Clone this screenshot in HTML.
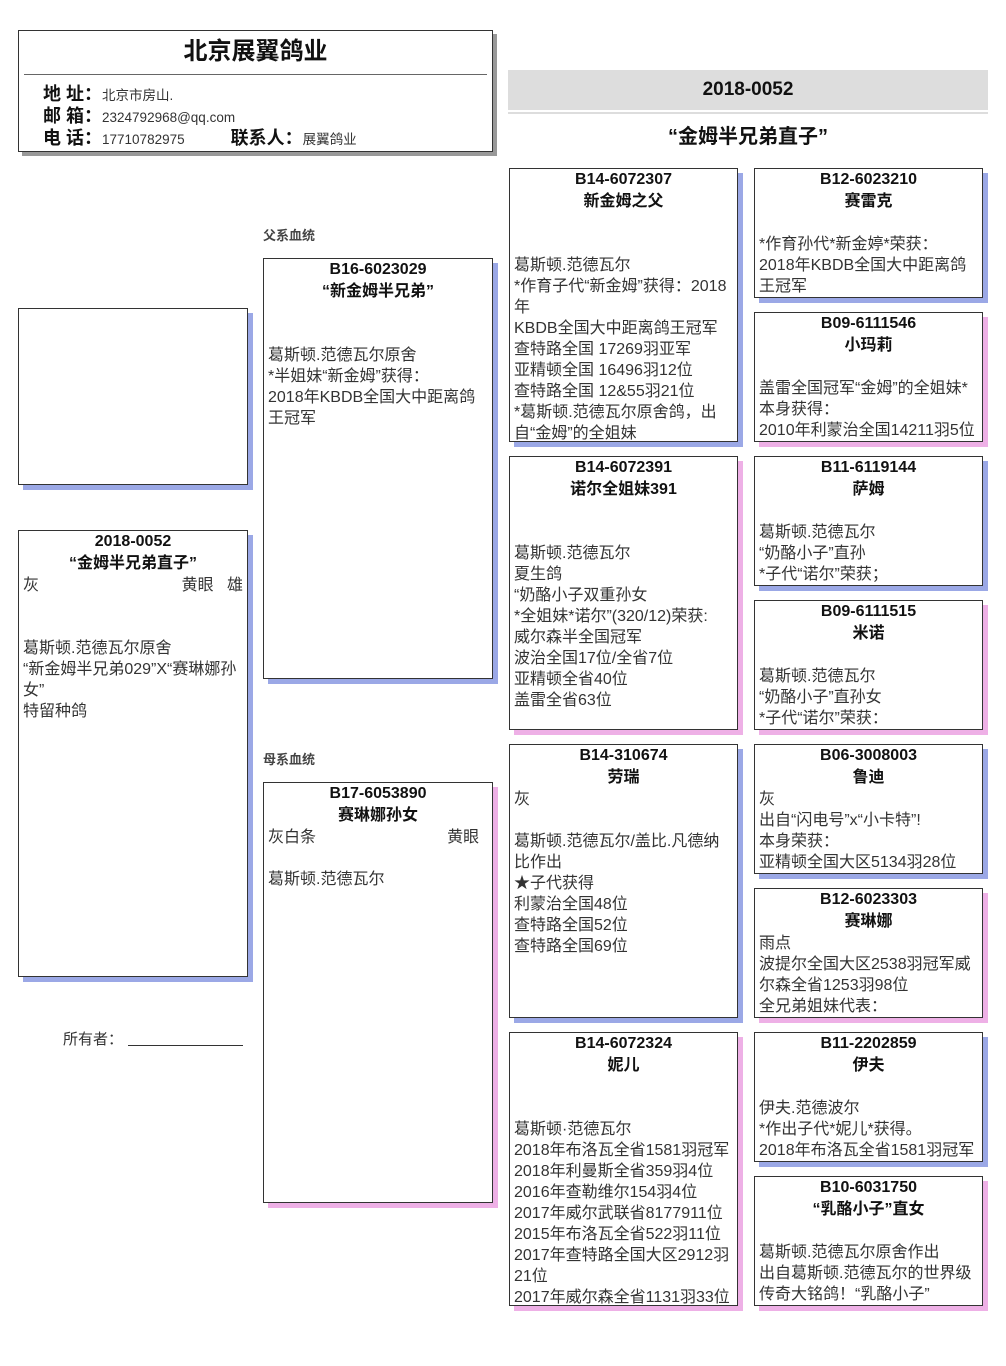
<!DOCTYPE html>
<html><head><meta charset="utf-8"><style>
body{margin:0;width:1006px;height:1366px;background:#fff;position:relative;font-family:"Liberation Sans","Noto Sans CJK SC",sans-serif;color:#333;overflow:hidden}
.b{position:absolute;border:1px solid #333;background:#fff;box-sizing:border-box;overflow:hidden;padding:0 4px;font-size:16px;line-height:21px}
.m{box-shadow:5px 5px 0 #9ba8e6}
.f{box-shadow:5px 5px 0 #eeb0e6}
.h{text-align:center;font-weight:bold;font-size:16px;line-height:22px;color:#111}
.row{display:flex;justify-content:space-between}
.lab{position:absolute;font-size:13px;font-weight:bold;color:#444}
</style></head><body>

<div style="position:absolute;left:18px;top:30px;width:475px;height:122px;border:1px solid #333;box-sizing:border-box;box-shadow:4px 4px 0 #999;background:#fff">
 <div style="text-align:center;font-size:24px;font-weight:bold;color:#111;margin-top:6px;line-height:30px">北京展翼鸽业</div>
 <div style="position:absolute;left:5px;right:5px;top:43px;border-top:1px solid #666"></div>
 <div style="position:absolute;left:24px;top:53px;font-size:13.5px;line-height:21px;color:#333">
  <div><b style="font-size:18px;color:#111">地 址：</b>北京市房山.</div>
  <div><b style="font-size:18px;color:#111">邮 箱：</b>2324792968@qq.com</div>
  <div><b style="font-size:18px;color:#111">电 话：</b>17710782975<span style="display:inline-block;width:46px"></span><b style="font-size:18px;color:#111">联系人：</b>展翼鸽业</div>
 </div>
</div>

<div style="position:absolute;left:508px;top:70px;width:480px;height:40px;background:#ddd;text-align:center;font-weight:bold;font-size:19px;line-height:40px;color:#111">2018-0052</div>
<div style="position:absolute;left:508px;top:112px;width:480px;height:2px;background:#ddd"></div>
<div style="position:absolute;left:508px;top:120px;width:480px;text-align:center;font-weight:bold;font-size:20px;color:#111">“金姆半兄弟直子”</div>

<div class="b m" style="left:18px;top:308px;width:230px;height:177px"></div>

<div class="b m" style="left:18px;top:530px;width:230px;height:447px">
<div class="h"><div>2018-0052</div><div>“金姆半兄弟直子”</div></div>
<div class="row"><span>灰</span><span>黄眼&nbsp;&nbsp;&nbsp;雄</span></div><br><br>
葛斯顿.范德瓦尔原舍<br>“新金姆半兄弟029”X“赛琳娜孙女”<br>特留种鸽
</div>

<div style="position:absolute;left:63px;top:1028px;font-size:15px">所有者：</div>
<div style="position:absolute;left:128px;top:1045px;width:115px;border-top:1px solid #333"></div>

<div class="lab" style="left:263px;top:225px">父系血统</div>
<div class="b m" style="left:263px;top:258px;width:230px;height:421px">
<div class="h"><div>B16-6023029</div><div>“新金姆半兄弟”</div></div><br><br>
葛斯顿.范德瓦尔原舍<br>*半姐妹“新金姆”获得：<br>2018年KBDB全国大中距离鸽王冠军
</div>

<div class="lab" style="left:263px;top:749px">母系血统</div>
<div class="b f" style="left:263px;top:782px;width:230px;height:421px">
<div class="h"><div>B17-6053890</div><div>赛琳娜孙女</div></div>
<div class="row"><span>灰白条</span><span>黄眼&nbsp;&nbsp;</span></div><br>
葛斯顿.范德瓦尔
</div>

<div class="b m" style="left:509px;top:168px;width:229px;height:274px">
<div class="h"><div>B14-6072307</div><div>新金姆之父</div></div><br><br>
葛斯顿.范德瓦尔<br>*作育子代“新金姆”获得：2018年<br>KBDB全国大中距离鸽王冠军<br>查特路全国 17269羽亚军<br>亚精顿全国 16496羽12位<br>查特路全国 12&amp;55羽21位<br>*葛斯顿.范德瓦尔原舍鸽，出自“金姆”的全姐妹
</div>
<div class="b f" style="left:509px;top:456px;width:229px;height:274px">
<div class="h"><div>B14-6072391</div><div>诺尔全姐妹391</div></div><br><br>
葛斯顿.范德瓦尔<br>夏生鸽<br>“奶酪小子双重孙女<br>*全姐妹*诺尔”(320/12)荣获:<br>威尔森半全国冠军<br>波治全国17位/全省7位<br>亚精顿全省40位<br>盖雷全省63位
</div>
<div class="b m" style="left:509px;top:744px;width:229px;height:274px">
<div class="h"><div>B14-310674</div><div>劳瑞</div></div>
灰<br><br>葛斯顿.范德瓦尔/盖比.凡德纳比作出<br>★子代获得<br>利蒙治全国48位<br>查特路全国52位<br>查特路全国69位
</div>
<div class="b f" style="left:509px;top:1032px;width:229px;height:274px">
<div class="h"><div>B14-6072324</div><div>妮儿</div></div><br><br>
葛斯顿·范德瓦尔<br>2018年布洛瓦全省1581羽冠军<br>2018年利曼斯全省359羽4位<br>2016年查勒维尔154羽4位<br>2017年威尔武联省8177911位<br>2015年布洛瓦全省522羽11位<br>2017年查特路全国大区2912羽21位<br>2017年威尔森全省1131羽33位
</div>

<div class="b m" style="left:754px;top:168px;width:229px;height:130px">
<div class="h"><div>B12-6023210</div><div>赛雷克</div></div><br>
*作育孙代*新金婷*荣获：<br>2018年KBDB全国大中距离鸽王冠军
</div>
<div class="b f" style="left:754px;top:312px;width:229px;height:130px">
<div class="h"><div>B09-6111546</div><div>小玛莉</div></div><br>
盖雷全国冠军“金姆”的全姐妹*<br>本身获得：<br>2010年利蒙治全国14211羽5位
</div>
<div class="b m" style="left:754px;top:456px;width:229px;height:130px">
<div class="h"><div>B11-6119144</div><div>萨姆</div></div><br>
葛斯顿.范德瓦尔<br>“奶酪小子”直孙<br>*子代“诺尔”荣获；
</div>
<div class="b f" style="left:754px;top:600px;width:229px;height:130px">
<div class="h"><div>B09-6111515</div><div>米诺</div></div><br>
葛斯顿.范德瓦尔<br>“奶酪小子”直孙女<br>*子代“诺尔”荣获：
</div>
<div class="b m" style="left:754px;top:744px;width:229px;height:130px">
<div class="h"><div>B06-3008003</div><div>鲁迪</div></div>
灰<br>出自“闪电号”x“小卡特”!<br>本身荣获：<br>亚精顿全国大区5134羽28位
</div>
<div class="b f" style="left:754px;top:888px;width:229px;height:130px">
<div class="h"><div>B12-6023303</div><div>赛琳娜</div></div>
雨点<br>波提尔全国大区2538羽冠军威尔森全省1253羽98位<br>全兄弟姐妹代表：
</div>
<div class="b m" style="left:754px;top:1032px;width:229px;height:130px">
<div class="h"><div>B11-2202859</div><div>伊夫</div></div><br>
伊夫.范德波尔<br>*作出子代*妮儿*获得。<br>2018年布洛瓦全省1581羽冠军
</div>
<div class="b f" style="left:754px;top:1176px;width:229px;height:130px">
<div class="h"><div>B10-6031750</div><div>“乳酪小子”直女</div></div><br>
葛斯顿.范德瓦尔原舍作出<br>出自葛斯顿.范德瓦尔的世界级传奇大铭鸽！“乳酪小子”
</div>
</body></html>
